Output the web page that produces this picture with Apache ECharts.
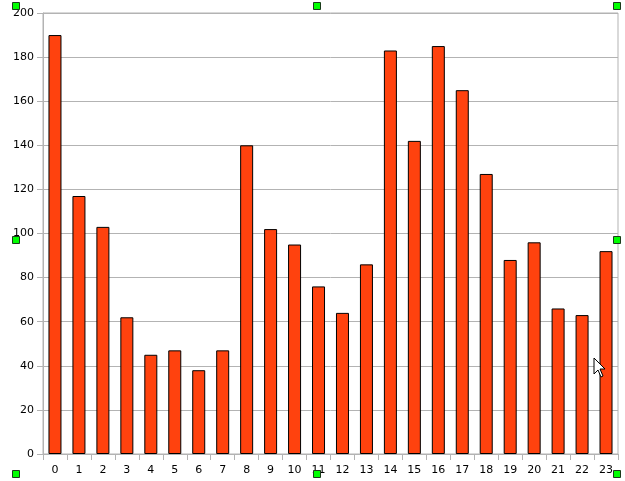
<!DOCTYPE html>
<html style="height: 100%">
<head>
    <meta charset="utf-8">
</head>
<body style="height: 100%; margin: 0; background: #fff">
<div id="container" style="width:625px; height:481px"></div>
<script type="text/javascript" src="https://cdn.jsdelivr.net/npm/echarts@6/dist/echarts.min.js"></script>
<script type="text/javascript">
    var hours = ['0', '1', '2', '3', '4', '5', '6', '7', '8', '9', '10', '11',
        '12', '13', '14', '15', '16', '17', '18', '19', '20', '21', '22', '23'];
    var counts = [190, 117, 103, 62, 45, 47, 38, 47, 140, 102, 95, 76,
        64, 86, 183, 142, 185, 165, 127, 88, 96, 66, 63, 92];

    // selection handles from the screenshot
    var handles = [[16, 6], [317, 6], [617, 6], [16, 240], [617, 240], [16, 474], [317, 474], [617, 474]];

    var dom = document.getElementById("container");
    var myChart = echarts.init(dom);

    var gfx = handles.map(function (h) {
        return {
            type: 'rect',
            shape: {x: h[0] - 3.5, y: h[1] - 3.5, width: 7, height: 7},
            style: {fill: '#00ff00', stroke: '#1a3a1a', lineWidth: 1},
            z: 100
        };
    });
    gfx.push({
        type: 'polygon',
        shape: {points: [[594, 358], [594, 374], [598, 370], [601, 377], [603, 376], [600, 369], [605, 369]]},
        style: {fill: '#fff', stroke: '#000', lineWidth: 1},
        z: 101
    });

    var option = {
        animation: false,
        grid: {
            left: 43, top: 13, right: 7, bottom: 27,
            show: true, borderColor: '#b3b3b3', borderWidth: 1
        },
        xAxis: {
            type: 'category',
            data: hours,
            axisLine: {lineStyle: {color: '#b3b3b3'}},
            axisTick: {show: true, length: 6, lineStyle: {color: '#b3b3b3'}},
            axisLabel: {color: '#000', fontSize: 11, fontFamily: 'DejaVu Sans', margin: 11}
        },
        yAxis: {
            type: 'value',
            min: 0, max: 200, interval: 20,
            axisLine: {show: true, lineStyle: {color: '#b3b3b3'}},
            axisTick: {show: true, length: 6, lineStyle: {color: '#b3b3b3'}},
            splitLine: {lineStyle: {color: '#b3b3b3'}},
            axisLabel: {color: '#000', fontSize: 11, fontFamily: 'DejaVu Sans', margin: 9}
        },
        series: [{
            type: 'bar',
            data: counts,
            barWidth: 13,
            itemStyle: {color: '#ff420e', borderColor: '#000', borderWidth: 1}
        }],
        graphic: gfx
    };
    myChart.setOption(option);
</script>
</body>
</html>
